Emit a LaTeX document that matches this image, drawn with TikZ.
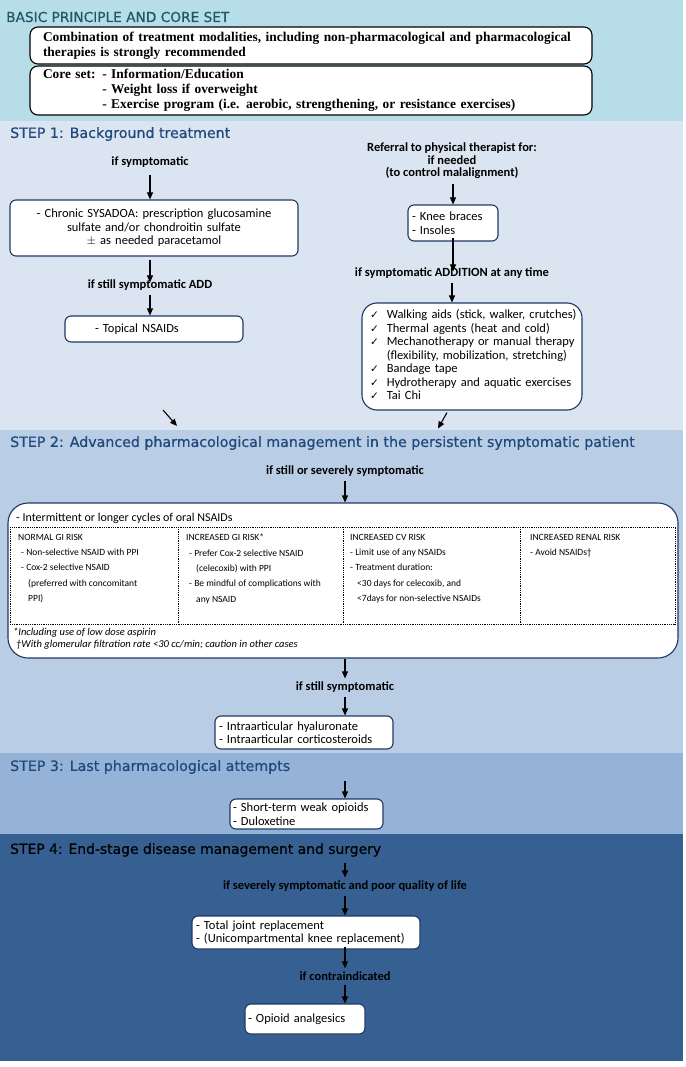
\documentclass[tikz,border=0pt]{standalone}
\usepackage{fontspec}
\setmainfont{Carlito}
\newfontfamily\hdfont[FakeBold=0.6]{DejaVu Sans}
\newfontfamily\basicfont{Liberation Serif}
\newfontfamily\chkfont{DejaVu Sans}
\usetikzlibrary{arrows.meta}
\definecolor{basiccol}{HTML}{B7DEE8}
\definecolor{sonecol}{HTML}{DBE5F1}
\definecolor{stwocol}{HTML}{B9CDE5}
\definecolor{sthreecol}{HTML}{95B3D7}
\definecolor{sfourcol}{HTML}{376092}
\definecolor{hdcol}{HTML}{1F497D}
\definecolor{basichd}{HTML}{215868}
\definecolor{boxcol}{HTML}{1F3864}
\tikzset{
  hd/.style={anchor=west, inner sep=0pt, font=\hdfont\fontsize{14.2}{16}\selectfont, text=hdcol},
  cond/.style={inner sep=0pt, align=center, font=\bfseries\fontsize{12.5}{12.8}\selectfont},
  box/.style={draw=boxcol, line width=1.1pt, fill=white, rounded corners=6pt, align=left,
    inner ysep=2pt, font=\fontsize{12.5}{13.5}\selectfont},
  bbox/.style={draw=black, line width=1.1pt, fill=white, rounded corners=8pt, align=left,
    inner ysep=2pt, font=\basicfont\bfseries\fontsize{13.4}{15}\selectfont},
  arr/.style={-{Triangle[length=7pt,width=6pt]}, line width=1.1pt},
  tcol/.style={anchor=north west, inner sep=0pt, align=left, font=\fontsize{9.5}{15.3}\selectfont},
  foot/.style={anchor=west, inner sep=0pt, font=\itshape\fontsize{10.5}{12}\selectfont}
}
\newcommand{\ck}{{\chkfont\fontsize{10.5}{10}\selectfont ✓}}
\begin{document}
\begin{tikzpicture}[x=1pt,y=-1pt]
\useasboundingbox (0,0) rectangle (685,1067);
\fill[white] (0,0) rectangle (685,1067);
\fill[basiccol] (0,0) rectangle (683,121);
\fill[sonecol] (0,121) rectangle (683,430);
\fill[stwocol] (0,430) rectangle (683,753);
\fill[sthreecol] (0,753) rectangle (683,834);
\fill[sfourcol] (0,834) rectangle (683,1061);

% BASIC
\node[hd, text=basichd, font=\hdfont\fontsize{13.7}{16}\selectfont] (h0) at (6,17) {BASIC PRINCIPLE AND CORE SET};
\node[bbox, inner xsep=13pt, text width=536pt, minimum height=37pt] (b1) at (311,45.5)
  {Combination of treatment modalities, including non-pharmacological and pharmacological\\therapies is strongly recommended};
\node[bbox, inner xsep=13pt, text width=536pt, minimum height=45pt] (b2) at (311,90.5)
  {\begin{tabular}{@{}l@{ }l@{}}Core set: & - Information/Education\\ & - Weight loss if overweight\\ & - Exercise program (i.e. aerobic, strengthening, or resistance exercises)\end{tabular}};

% STEP 1
\node[hd] (h1) at (10,134) {STEP 1: Background treatment};
\node[cond] (c1) at (150,162) {if symptomatic};
\node[box, align=center, inner xsep=8pt, text width=272pt, minimum height=56pt] (sys) at (154,228)
  {- Chronic SYSADOA: prescription glucosamine\\sulfate and/or chondroitin sulfate\\$\pm$ as needed paracetamol};
\node[cond] (c2) at (150,285) {if still symptomatic ADD};
\node[box, inner xsep=0pt, text width=178pt, minimum height=26pt] (top) at (154,329)
  {\hspace*{30pt}- Topical NSAIDs};
\draw[arr] ([yshift=-7pt]c1.south) -- (c1.south |- sys.north);
\draw[arr] (c1.south |- sys.south) ++(0,3) -- ([yshift=-3pt]c2.north -| c1.south);
\draw[arr] ([yshift=-4pt]c2.south) -- (c2.south |- top.north);

\node[cond, font=\bfseries\fontsize{12.5}{12.5}\selectfont] (ref) at (452,161)
  {Referral to physical therapist for:\\if needed\\(to control malalignment)};
\node[box, inner xsep=4pt, text width=82pt, minimum height=36pt] (knee) at (453,223)
  {- Knee braces\\- Insoles};
\node[cond] (c3) at (452,273) {if symptomatic ADDITION at any time};
\node[box, rounded corners=15pt, inner xsep=8pt, text width=204pt, minimum height=107pt] (walk) at (472,356.5)
  {\renewcommand\arraystretch{1}\begin{tabular}{@{}l@{\hspace{8pt}}l@{}}
  \ck & Walking aids (stick, walker, crutches)\\
  \ck & Thermal agents (heat and cold)\\
  \ck & Mechanotherapy or manual therapy\\
   & (flexibility, mobilization, stretching)\\
  \ck & Bandage tape\\
  \ck & Hydrotherapy and aquatic exercises\\
  \ck & Tai Chi\end{tabular}};
\draw[arr] ([yshift=-5pt]ref.south -| knee.north) -- (knee.north);
\draw[arr] ([yshift=4pt]knee.south) -- ([yshift=-4pt]c3.north -| knee.south);
\draw[arr] ([yshift=-4pt]c3.south) -- (c3.south |- walk.north);
\coordinate (la) at (163,410);
\draw[arr] (la) -- ++(14,16);
\draw[arr] ([xshift=-25pt,yshift=-2pt]walk.south) -- ++(-9,16);

% STEP 2
\node[hd] (h2) at (10,443) {STEP 2: Advanced pharmacological management in the persistent symptomatic patient};
\node[cond] (c4) at (345,471) {if still or severely symptomatic};
\node[draw=boxcol, line width=1.1pt, fill=white, rounded corners=20pt, minimum width=670pt, minimum height=155pt, inner sep=0pt] (big) at (343,580.5) {};
\draw[arr] ([yshift=-4pt]c4.south) -- (c4.south |- big.north);
\node[anchor=west, inner sep=0pt, font=\fontsize{12}{14}\selectfont] (oral) at (16,518) {- Intermittent or longer cycles of oral NSAIDs};
\draw[densely dotted, line width=0.8pt] (10,527) rectangle (675,624);
\draw[densely dotted, line width=0.8pt] (178,527) -- (178,624) (343,527) -- (343,624) (520,527) -- (520,624);
\node[tcol] (t1) at (18,534) {NORMAL GI RISK\\\hspace*{3pt}- Non-selective NSAID with PPI\\\hspace*{3pt}- Cox-2 selective NSAID\\\hspace*{10pt}(preferred with concomitant\\\hspace*{10pt}PPI)};
\node[tcol] (t2) at (186,534) {INCREASED GI RISK*\\\hspace*{3pt}- Prefer Cox-2 selective NSAID\\\hspace*{10pt}(celecoxib) with PPI\\\hspace*{3pt}- Be mindful of complications with\\\hspace*{10pt}any NSAID};
\node[tcol] (t3) at (350,534) {INCREASED CV RISK\\- Limit use of any NSAIDs\\- Treatment duration:\\\hspace*{7pt}<30 days for celecoxib, and\\\hspace*{7pt}<7days for non-selective NSAIDs};
\node[tcol] (t4) at (530,534) {INCREASED RENAL RISK\\- Avoid NSAIDs†};
\node[foot] (f1) at (13,633) {*Including use of low dose aspirin};
\node[foot] (f2) at (16,645) {†With glomerular filtration rate <30 cc/min; caution in other cases};
\node[cond] (c5) at (345,687) {if still symptomatic};
\node[box, inner xsep=4pt, text width=170pt, minimum height=33pt] (ia) at (304,732.5)
  {- Intraarticular hyaluronate\\- Intraarticular corticosteroids};
\draw[arr] (big.south -| c5.north) -- ([yshift=3pt]c5.north);
\draw[arr] ([yshift=-4pt]c5.south) -- (c5.south |- ia.north);

% STEP 3
\node[hd] (h3) at (10,767) {STEP 3: Last pharmacological attempts};
\node[box, inner xsep=3pt, text width=147pt, minimum height=30pt] (sto) at (306.5,814)
  {- Short-term weak opioids\\- Duloxetine};
\coordinate (s3a) at (345,781);
\draw[arr] (s3a) -- (s3a |- sto.north);

% STEP 4
\node[hd, text=black, font=\hdfont\fontsize{13.9}{16}\selectfont] (h4) at (10,850) {STEP 4: End-stage disease management and surgery};
\node[cond] (c6) at (345,886) {if severely symptomatic and poor quality of life};
\node[box, inner xsep=4pt, text width=220pt, minimum height=33pt] (tjr) at (306,932.5)
  {- Total joint replacement\\- (Unicompartmental knee replacement)};
\node[cond] (c7) at (345,976) {if contraindicated};
\node[box, inner xsep=3pt, text width=114pt, minimum height=30pt] (op) at (305,1019)
  {- Opioid analgesics};
\coordinate (s4a) at (345,863);
\draw[arr] (s4a) -- ([yshift=3pt]c6.north);
\draw[arr] ([yshift=-4pt]c6.south) -- (c6.south |- tjr.north);
\draw[arr] ([yshift=3pt]tjr.south -| c7.north) -- ([yshift=3pt]c7.north);
\draw[arr] ([yshift=-4pt]c7.south) -- (c7.south |- op.north);
\end{tikzpicture}
\end{document}
